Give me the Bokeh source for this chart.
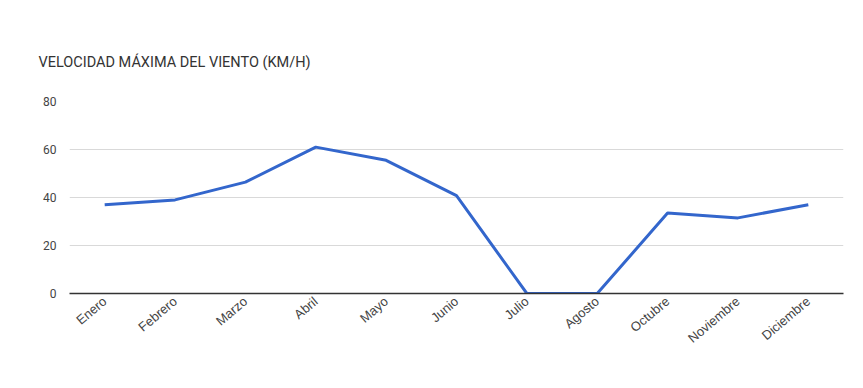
from bokeh.plotting import figure
from bokeh.models import FactorRange, Range1d, FixedTicker
from bokeh.embed import file_html
from bokeh.resources import INLINE

months = ["Enero", "Febrero", "Marzo", "Abril", "Mayo", "Junio", "Julio",
          "Agosto", "Octubre", "Noviembre", "Diciembre"]
velocidad = [37, 39, 46.4, 61, 55.5, 40.8, 0, 0, 33.5, 31.5, 37]
y_ticks = [0, 20, 40, 60, 80]
title_text = "VELOCIDAD MÁXIMA DEL VIENTO (KM/H)"

W, H = 855, 380
FL, FR, FT, FB = 69, 843, 101, 293   # frame edges in canvas pixels
p = figure(width=W, height=H, x_range=FactorRange(*months), y_range=Range1d(0, 80),
           output_backend="svg", toolbar_location=None,
           min_border_left=FL, min_border_right=W - FR, min_border_top=FT,
           min_border_bottom=H - FB)
p.outline_line_color = None
p.background_fill_color = None
p.border_fill_color = "white"

p.title.text = title_text
p.title.align = "left"
p.title.offset = 38 - FL
p.title.standoff = 61
p.title.text_font = "Roboto"
p.title.text_font_size = "14.5px"
p.title.text_font_style = "normal"
p.title.text_color = "#333333"

p.line(months, velocidad, line_color="#3366cc", line_width=3)

p.yaxis.ticker = FixedTicker(ticks=y_ticks)
p.yaxis.axis_line_color = None
p.yaxis.major_tick_line_color = None
p.yaxis.minor_tick_line_color = None
p.yaxis.major_tick_out = 0
p.yaxis.major_label_standoff = 13
p.yaxis.major_label_text_font = "Roboto"
p.yaxis.major_label_text_font_size = "12px"
p.yaxis.major_label_text_color = "#444444"

p.xaxis.axis_line_color = "#333333"
p.xaxis.axis_line_width = 1.5
p.xaxis.major_tick_line_color = None
p.xaxis.minor_tick_line_color = None
p.xaxis.major_tick_out = 0
p.xaxis.major_label_standoff = 6
p.xaxis.major_label_orientation = 0.7
p.xaxis.major_label_text_font = "Liberation Sans"
p.xaxis.major_label_text_font_size = "13px"
p.xaxis.major_label_text_color = "#444444"

p.xgrid.grid_line_color = None
p.ygrid.grid_line_color = "#d9d9d9"
p.ygrid.grid_line_width = 1

open("out.html", "w").write(file_html(p, INLINE))
